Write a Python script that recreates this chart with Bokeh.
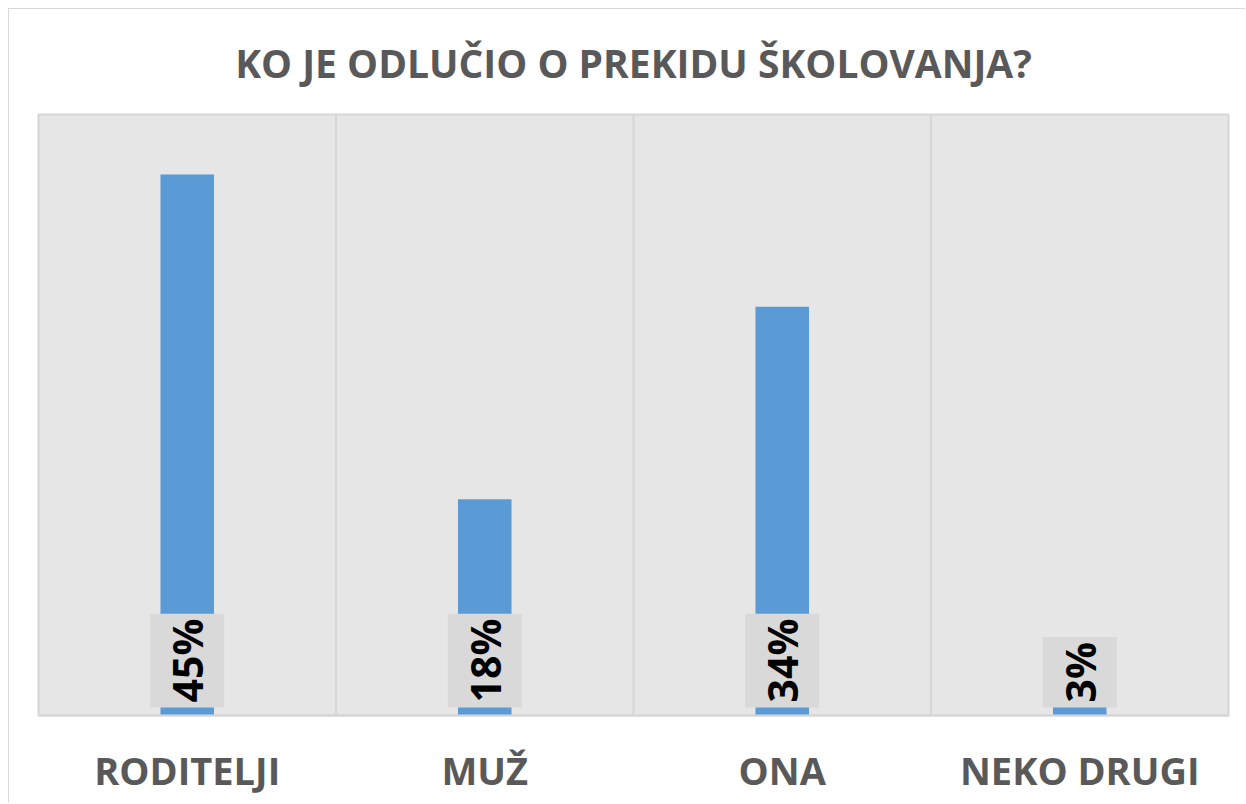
import math
from bokeh.plotting import figure
from bokeh.models import Range1d, FactorRange, ColumnDataSource
from bokeh.transform import dodge
from bokeh.core.properties import value
from bokeh.embed import file_html
from bokeh.resources import INLINE

title = "KO JE ODLUČIO O PREKIDU ŠKOLOVANJA?"
categories = ["RODITELJI", "MUŽ", "ONA", "NEKO DRUGI"]
values = [45, 18, 34, 3]
labels = ["45%", "18%", "34%", "3%"]

src = ColumnDataSource(dict(cat=categories, val=values, lab=labels))
sep = ColumnDataSource(dict(cat=categories[:-1]))

p = figure(x_range=FactorRange(*categories), y_range=Range1d(0, 50),
           frame_width=1190, frame_height=601, output_backend="svg", toolbar_location=None,
           min_border_left=29, min_border_right=17, min_border_top=105, min_border_bottom=87,
           background_fill_color="#e6e6e6", border_fill_color="white")
p.styles = {"margin-left": "8px", "margin-top": "8px",
            "border-top": "1px solid #d9d9d9", "border-left": "1px solid #d9d9d9"}

p.title.text = title
p.title.align = "center"
p.title.vertical_align = "top"
p.title.text_font = "Open Sans"
p.title.text_font_style = "bold"
p.title.text_font_size = "39px"
p.title.text_color = "#595959"
p.title.standoff = 48

p.outline_line_color = "#d6d6d6"
p.outline_line_width = 2
p.ygrid.visible = False
p.xgrid.visible = False
p.yaxis.visible = False

p.segment(x0=dodge("cat", 0.5, range=p.x_range), y0=0,
          x1=dodge("cat", 0.5, range=p.x_range), y1=50,
          source=sep, line_color="#d6d6d6", line_width=2)

p.vbar(x="cat", top="val", width=0.18, source=src, fill_color="#5b9bd5", line_color=None)

p.text(x="cat", y=0, text="lab", source=src, angle=math.pi / 2,
       text_align="left", text_baseline="middle", y_offset=-8,
       text_font=value("Open Sans"), text_font_style="bold", text_font_size="41px",
       text_color="black", background_fill_color="#d9d9d9", padding=(5, 9))

ax = p.xaxis[0]
ax.axis_line_color = "#d6d6d6"
ax.axis_line_width = 2
ax.major_tick_line_color = None
ax.minor_tick_line_color = None
ax.major_label_text_font = "Open Sans"
ax.major_label_text_font_style = "bold"
ax.major_label_text_font_size = "38px"
ax.major_label_text_color = "#595959"
ax.major_label_standoff = 22

open("out.html", "w").write(file_html(p, INLINE))
